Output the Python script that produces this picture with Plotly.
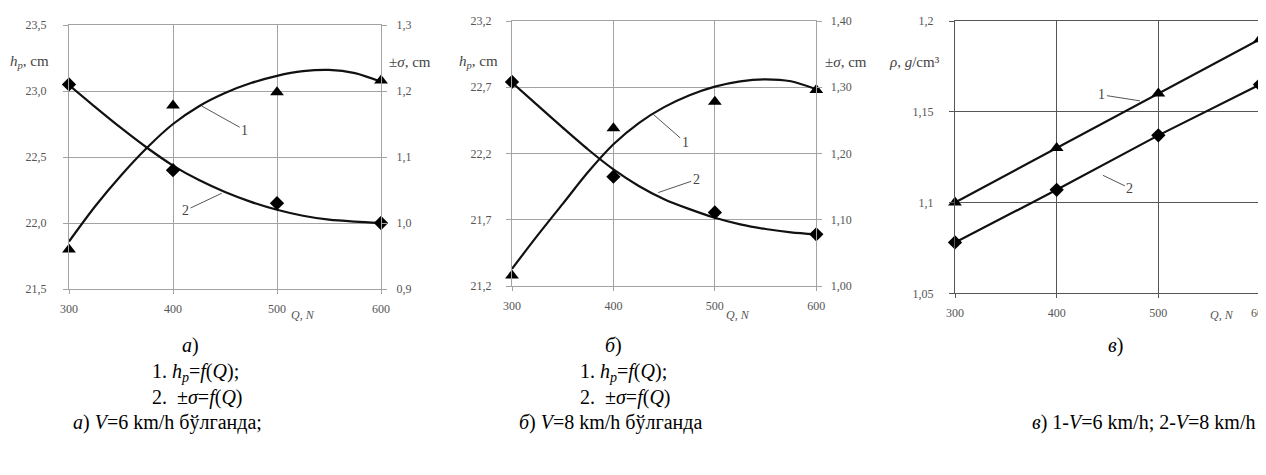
import plotly.graph_objects as go

W, H = 1266, 475
OFF = 8  # the page body has an 8 px margin

# ---------------- data ----------------
Q = [300, 400, 500, 600]
Q_curve = [300, 325, 350, 375, 400, 425, 450, 475, 500, 525, 550, 575, 600]

# panel а) V = 6 km/h
a_hp_points = [21.80, 22.89, 22.99, 23.08]
a_sigma_points = [1.21, 1.08, 1.03, 1.00]
a_hp_curve = [21.86, 22.125, 22.36, 22.57, 22.75, 22.885, 22.985, 23.06, 23.115, 23.15, 23.16, 23.135, 23.07]
a_sigma_curve = [1.209, 1.176, 1.144, 1.114, 1.087, 1.065, 1.047, 1.032, 1.020, 1.011, 1.005, 1.002, 1.000]

# panel б) V = 8 km/h
b_hp_points = [21.28, 22.39, 22.59, 22.68]
b_sigma_points = [1.308, 1.165, 1.111, 1.078]
b_hp_curve = [21.33, 21.58, 21.82, 22.06, 22.27, 22.43, 22.55, 22.64, 22.705, 22.745, 22.76, 22.745, 22.685]
b_sigma_curve = [1.307, 1.273, 1.239, 1.206, 1.176, 1.151, 1.131, 1.116, 1.103, 1.093, 1.086, 1.081, 1.078]

# panel в) density
c_rho_v6 = [1.10, 1.13, 1.16, 1.19]
c_rho_v8 = [1.078, 1.107, 1.137, 1.165]

# tick labels
x_ticks = [300, 400, 500, 600]
x_ticktext = ["300", "400", "500", "600"]
a_left_ticks = [21.5, 22.0, 22.5, 23.0, 23.5]
a_left_text = ["21,5", "22,0", "22,5", "23,0", "23,5"]
a_right_ticks = [0.9, 1.0, 1.1, 1.2, 1.3]
a_right_text = ["0,9", "1,0", "1,1", "1,2", "1,3"]
b_left_ticks = [21.2, 21.7, 22.2, 22.7, 23.2]
b_left_text = ["21,2", "21,7", "22,2", "22,7", "23,2"]
b_right_ticks = [1.00, 1.10, 1.20, 1.30, 1.40]
b_right_text = ["1,00", "1,10", "1,20", "1,30", "1,40"]
c_ticks = [1.05, 1.10, 1.15, 1.20]
c_text = ["1,05", "1,1", "1,15", "1,2"]

# ---------------- helpers ----------------
def px(x):
    return (x - OFF) / W

def py(y):
    return 1 - (y - OFF) / H

SERIF = "Liberation Serif"
TICKFONT = dict(family=SERIF, size=12, color="#555555")
GRID_AB = "#a3a3a3"
GRID_C = "#555555"
LINE = "#111111"

fig = go.Figure()

def curve(x, y, xa, ya):
    fig.add_trace(go.Scatter(x=x, y=y, xaxis=xa, yaxis=ya, mode="lines",
                             line=dict(color=LINE, width=2.2, shape="spline", smoothing=0.8),
                             showlegend=False, hoverinfo="skip"))

def pts(x, y, xa, ya, sym):
    fig.add_trace(go.Scatter(x=x, y=y, xaxis=xa, yaxis=ya, mode="markers",
                             marker=dict(symbol=sym, size=12 if sym == "triangle-up" else 11,
                                         color="#000000"),
                             showlegend=False, cliponaxis=False))

# panel a
curve(Q_curve, a_hp_curve, "x", "y")
curve(Q_curve, a_sigma_curve, "x", "y2")
pts(Q, a_hp_points, "x", "y", "triangle-up")
pts(Q, a_sigma_points, "x", "y2", "diamond")
# panel b
curve(Q_curve, b_hp_curve, "x2", "y3")
curve(Q_curve, b_sigma_curve, "x2", "y4")
pts(Q, b_hp_points, "x2", "y3", "triangle-up")
pts(Q, b_sigma_points, "x2", "y4", "diamond")
# panel c
fig.add_trace(go.Scatter(x=Q, y=c_rho_v6, xaxis="x3", yaxis="y5", mode="lines+markers",
                         line=dict(color=LINE, width=2.2),
                         marker=dict(symbol="triangle-up", size=12, color="#000000"),
                         showlegend=False, cliponaxis=False))
fig.add_trace(go.Scatter(x=Q, y=c_rho_v8, xaxis="x3", yaxis="y5", mode="lines+markers",
                         line=dict(color=LINE, width=2.2),
                         marker=dict(symbol="diamond", size=11, color="#000000"),
                         showlegend=False, cliponaxis=False))


def xaxis(domain, anchor, grid):
    return dict(domain=domain, anchor=anchor, range=[300, 600], tickvals=x_ticks,
                ticktext=x_ticktext, showgrid=True, gridcolor=grid, gridwidth=1.3,
                showline=True, linecolor=grid, linewidth=1.3, mirror=True,
                ticks="outside", ticklen=4, tickcolor=grid, tickfont=TICKFONT,
                ticklabelstandoff=4, zeroline=False, fixedrange=True, automargin=False)


def yaxis(domain, anchor, rng, tv, tt, grid, side="left", overlaying=None, standoff=12):
    d = dict(domain=domain, anchor=anchor, range=rng, tickvals=tv, ticktext=tt,
             showgrid=True, gridcolor=grid, gridwidth=1.3, showline=True,
             linecolor=grid, linewidth=1.3, ticks="outside", ticklen=5,
             tickcolor=grid, tickfont=TICKFONT, side=side, zeroline=False,
             ticklabelstandoff=standoff, fixedrange=True, automargin=False)
    if overlaying:
        d["overlaying"] = overlaying
        d["showgrid"] = False
    return d

a_dom_x = [px(69), px(381)]
a_dom_y = [py(289), py(25)]
b_dom_x = [px(512), px(816.3)]
b_dom_y = [py(286), py(21)]
c_dom_x = [px(955), px(1260)]
c_dom_y = [py(293.3), py(21)]

fig.update_layout(
    width=W, height=H,
    margin=dict(l=0, r=0, t=0, b=0, autoexpand=False),
    paper_bgcolor="white", plot_bgcolor="white",
    showlegend=False,
    xaxis=xaxis(a_dom_x, "y", GRID_AB),
    yaxis=yaxis(a_dom_y, "x", [21.5, 23.5], a_left_ticks, a_left_text, GRID_AB, standoff=14),
    yaxis2=yaxis(a_dom_y, "x", [0.9, 1.3], a_right_ticks, a_right_text, GRID_AB,
                 side="right", overlaying="y", standoff=7),
    xaxis2=xaxis(b_dom_x, "y3", GRID_AB),
    yaxis3=yaxis(b_dom_y, "x2", [21.2, 23.2], b_left_ticks, b_left_text, GRID_AB, standoff=12),
    yaxis4=yaxis(b_dom_y, "x2", [1.0, 1.4], b_right_ticks, b_right_text, GRID_AB,
                 side="right", overlaying="y3", standoff=6),
    xaxis3=xaxis(c_dom_x, "y5", GRID_C),
    yaxis5=yaxis(c_dom_y, "x3", [1.05, 1.20], c_ticks, c_text, GRID_C, standoff=13),
)

ann = []

def paper_text(text, x, y, size, xanchor="center", color="#000000"):
    ann.append(dict(text=text, x=px(x), y=py(y), xref="paper", yref="paper",
                    xanchor=xanchor, yanchor="middle", showarrow=False,
                    font=dict(family=SERIF, size=size, color=color)))

# axis titles
paper_text("<i>h<sub>p</sub></i>, cm", 8, 62, 15, "left", "#444444")
paper_text("±<i>σ</i>, cm", 387, 62, 15, "left", "#444444")
paper_text("<i>h<sub>p</sub></i>, cm", 457, 62, 15, "left", "#444444")
paper_text("±<i>σ</i>, cm", 823, 62, 15, "left", "#444444")
paper_text("<i>ρ</i>, <i>g</i>/cm³", 887, 62, 15, "left", "#444444")
paper_text("<i>Q, N</i>", 303, 315, 12, "center", "#555555")
paper_text("<i>Q, N</i>", 738, 315, 12, "center", "#555555")
paper_text("<i>Q, N</i>", 1222, 315, 12, "center", "#555555")

# curve labels with leader lines
def leader(text, x, y, xr, yr, ax, ay):
    ann.append(dict(text=text, x=x, y=y, xref=xr, yref=yr, ax=ax, ay=ay,
                    showarrow=True, arrowhead=0, arrowwidth=1, arrowcolor="#555555",
                    standoff=0, font=dict(family=SERIF, size=14, color="#444444")))

leader("1", 427.6, 22.886, "x", "y", 43, 24)
leader("2", 446.8, 1.045, "x", "y2", -36, 17)
leader("1", 439.2, 22.496, "x2", "y3", 32, 28)
leader("2", 444.1, 1.141, "x2", "y4", 38, -13)
leader("1", 481.9, 1.156, "x3", "y5", -38, -6)
leader("2", 445.5, 1.115, "x3", "y5", 27, 13)

# captions
paper_text("<i>а</i>)", 190, 345, 20)
paper_text("1. <i>h<sub>p</sub></i>=<i>f</i>(<i>Q</i>);", 150, 372, 20, "left")
paper_text("2.  ±<i>σ</i>=<i>f</i>(<i>Q</i>)", 150, 397, 20, "left")
paper_text("<i>а</i>) <i>V</i>=6 km/h бўлганда;", 167, 422, 20)

paper_text("<i>б</i>)", 613, 345, 20)
paper_text("1. <i>h<sub>p</sub></i>=<i>f</i>(<i>Q</i>);", 578, 372, 20, "left")
paper_text("2.  ±<i>σ</i>=<i>f</i>(<i>Q</i>)", 578, 397, 20, "left")
paper_text("<i>б</i>) <i>V</i>=8 km/h бўлганда", 610, 422, 20)

paper_text("<i>в</i>)", 1115, 345, 20)
paper_text("<i>в</i>) 1-<i>V</i>=6 km/h; 2-<i>V</i>=8 km/h", 1030, 422, 20, "left")

fig.update_layout(annotations=ann)

fig.write_html("out.html")
